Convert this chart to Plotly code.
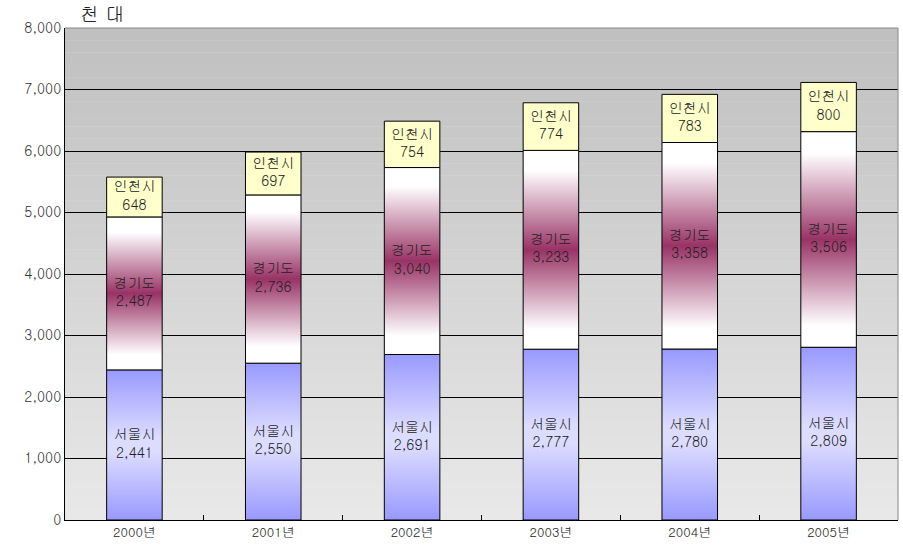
import plotly.graph_objects as go

years = ["2000년", "2001년", "2002년", "2003년", "2004년", "2005년"]
seoul = [2441, 2550, 2691, 2777, 2780, 2809]
gyeonggi = [2487, 2736, 3040, 3233, 3358, 3506]
incheon = [648, 697, 754, 774, 783, 800]
series_names = ["서울시", "경기도", "인천시"]
y_ticks = [0, 1000, 2000, 3000, 4000, 5000, 6000, 7000, 8000]

FONT = "Gulim, Dotum, 'Noto Sans CJK KR', sans-serif"
BAR_W = 0.4

styles = {
    "서울시": dict(colorscale=[[0, "#9999ff"], [0.45, "#dcdcff"], [0.55, "#dcdcff"], [1, "#9999ff"]]),
    "경기도": dict(colorscale=[[0, "#ffffff"], [0.1, "#ffffff"], [0.5, "#993366"], [0.9, "#ffffff"], [1, "#ffffff"]]),
    "인천시": dict(colorscale=[[0, "#ffffcc"], [1, "#ffffcc"]]),
}

fig = go.Figure()

data = [seoul, gyeonggi, incheon]
bases = [0] * len(years)
text_x, text_y, text_t = [], [], []
for name, vals in zip(series_names, data):
    for i, v in enumerate(vals):
        b = bases[i]
        t = b + v
        x0, x1 = i - BAR_W / 2, i + BAR_W / 2
        fig.add_trace(go.Scatter(
            x=[x0, x1, x1, x0, x0], y=[b, b, t, t, b],
            mode="lines", fill="toself",
            fillgradient=dict(type="vertical", start=b, stop=t,
                              colorscale=styles[name]["colorscale"]),
            line=dict(color="black", width=1),
            hoverinfo="skip", showlegend=False,
        ))
        text_x.append(i)
        text_y.append((b + t) / 2)
        text_t.append(f"{name}<br>{v:,}")
        bases[i] = t

fig.add_trace(go.Scatter(
    x=text_x, y=text_y, text=text_t, mode="text",
    textfont=dict(family=FONT, size=14, color="#222222"),
    hoverinfo="skip", showlegend=False,
))

fig.add_trace(go.Scatter(x=[0], y=[0], xaxis="x2", mode="markers",
                         marker=dict(opacity=0), hoverinfo="skip", showlegend=False))

n_bands = 40
top_c = (0xc0, 0xc0, 0xc0)
bot_c = (0xe8, 0xe8, 0xe8)
shapes = []
for k in range(n_bands):
    f = k / (n_bands - 1)
    c = tuple(round(bot_c[j] + (top_c[j] - bot_c[j]) * f) for j in range(3))
    shapes.append(dict(type="rect", xref="paper", x0=0, x1=1, yref="y",
                       y0=y_ticks[-1] * k / n_bands, y1=y_ticks[-1] * (k + 1) / n_bands,
                       fillcolor="rgb(%d,%d,%d)" % c, line=dict(width=0), layer="below"))
shapes.append(dict(type="line", xref="paper", yref="paper", x0=0, x1=1, y0=1, y1=1,
                   line=dict(color="#888888", width=1), layer="above"))
shapes.append(dict(type="line", xref="paper", yref="paper", x0=1, x1=1, y0=0, y1=1,
                   line=dict(color="#888888", width=1), layer="above"))

fig.update_layout(
    width=903, height=557,
    margin=dict(l=65, r=5, t=28, b=37),
    paper_bgcolor="white", plot_bgcolor="#e0e0e0",
    shapes=shapes,
    font=dict(family=FONT, size=14, color="#222222"),
    xaxis=dict(range=[-0.5, len(years) - 0.5], tickvals=list(range(len(years))),
               ticktext=years, ticks="", showgrid=False, zeroline=False,
               showline=True, linecolor="black", linewidth=1,
               tickfont=dict(size=13, color="#222222")),
    xaxis2=dict(overlaying="x", matches="x", range=[-0.5, len(years) - 0.5],
                tickvals=[i - 0.5 for i in range(len(years) + 1)],
                ticks="inside", ticklen=5, tickcolor="black", showticklabels=False,
                showgrid=False, zeroline=False, showline=False, side="bottom"),
    yaxis=dict(range=[y_ticks[0], y_ticks[-1]], tickvals=y_ticks,
               ticktext=[f"{v:,}" for v in y_ticks],
               showgrid=True, gridcolor="black", gridwidth=1, zeroline=False,
               showline=True, linecolor="black", linewidth=1, ticks="",
               tickfont=dict(size=14, color="#333333")),
    annotations=[dict(text="천 대", xref="paper", yref="paper", x=0.016, y=1.0,
                      xanchor="left", yanchor="bottom", showarrow=False, yshift=0,
                      font=dict(family=FONT, size=19, color="#222222"))],
)

fig.write_html("out.html")
